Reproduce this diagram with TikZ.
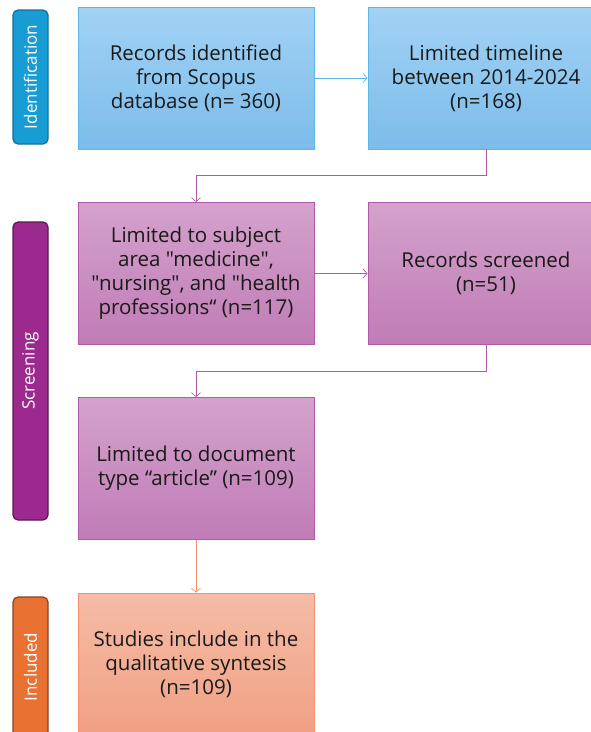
\documentclass[tikz,border=0pt]{standalone}
\usepackage{fontspec}
\setmainfont{Open Sans}[Ligatures=TeXOff]
\usetikzlibrary{arrows.meta}
\definecolor{bTop}{HTML}{A2D2F4}
\definecolor{bBot}{HTML}{7CBCEA}
\definecolor{bLine}{HTML}{5CB6E6}
\definecolor{pTop}{HTML}{D4A2CC}
\definecolor{pBot}{HTML}{C07CB6}
\definecolor{pLine}{HTML}{B25AAA}
\definecolor{oTop}{HTML}{F5BCA6}
\definecolor{oBot}{HTML}{F0A084}
\definecolor{oLine}{HTML}{F29070}
\definecolor{idFill}{HTML}{189CD4}
\definecolor{idLine}{HTML}{156E9E}
\definecolor{scFill}{HTML}{9C2A8E}
\definecolor{scLine}{HTML}{581A50}
\definecolor{inFill}{HTML}{E97132}
\definecolor{inLine}{HTML}{8A4222}
\tikzset{
  x=1pt, y=-1pt,
  box/.style={minimum width=236pt, minimum height=142pt, align=center, inner sep=2pt,
    font=\fontsize{20.5}{24}\selectfont, text=black!90, line width=0.8pt},
  bluebox/.style={box, draw=bLine, top color=bTop, bottom color=bBot},
  purplebox/.style={box, draw=pLine, top color=pTop, bottom color=pBot},
  orangebox/.style={box, draw=oLine, top color=oTop, bottom color=oBot},
  phase/.style={rounded corners=5pt, line width=1.2pt, minimum width=35pt, inner sep=0pt},
  phasetext/.style={rotate=90, text=white, font=\fontsize{17}{20}\selectfont},
  conn/.style={line width=0.7pt, -{Straight Barb[length=4pt,width=9pt,line width=0.7pt]}}
}
\begin{document}
\begin{tikzpicture}
\useasboundingbox (0,0) rectangle (590,732);
% phase labels
\node[phase, draw=idLine, fill=idFill, minimum height=134pt] (lid) at (30.5,77) {};
\node[phasetext] (lidt) at (lid.center) {Identification};
\node[phase, draw=scLine, fill=scFill, minimum height=298pt] (lsc) at (30.5,371) {};
\node[phasetext] (lsct) at (lsc.center) {Screening};
\node[phase, draw=inLine, fill=inFill, minimum height=140pt] (lin) at (30.5,667) {};
\node[phasetext] (lint) at (lin.center) {Included};
% boxes
\node[bluebox] (b1) at (196,78) {Records identified\\from Scopus\\database (n= 360)};
\node[bluebox] (b2) at (486,78) {Limited timeline\\between 2014-2024\\(n=168)};
\node[purplebox] (b3) at (196,273.5) {Limited to subject\\area "medicine",\\"nursing", and "health\\professions“ (n=117)};
\node[purplebox] (b4) at (486,273.5) {Records screened\\(n=51)};
\node[purplebox] (b5) at (196,468.5) {Limited to document\\type “article” (n=109)};
\node[orangebox] (b6) at (196,664) {Studies include in the\\qualitative syntesis\\(n=109)};
% connectors
\draw[conn, draw=bLine] (b1.east) -- (b2.west);
\draw[conn, draw=pLine] (b2.south) |- (196,175) -- (b3.north);
\draw[conn, draw=pLine] (b3.east) -- (b4.west);
\draw[conn, draw=pLine] (b4.south) |- (196,371) -- (b5.north);
\draw[conn, draw=oLine] (b5.south) -- (b6.north);
\end{tikzpicture}
\end{document}
